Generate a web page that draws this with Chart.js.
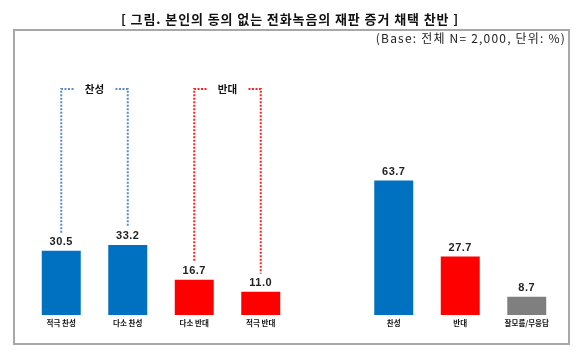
<!DOCTYPE html>
<html>
<head>
<meta charset="utf-8">
<script src="https://cdn.jsdelivr.net/npm/chart.js@4"></script>
<style>
html,body{margin:0;padding:0;background:#fff;}
#wrap{position:relative;width:580px;height:355px;}
</style>
</head>
<body>
<div id="wrap"><canvas id="c" width="580" height="355"></canvas></div>
<script>
const titleText = '[ 그림. 본인의 동의 없는 전화녹음의 재판 증거 채택 찬반 ]';
const baseText = '(Base: 전체 N= 2,000, 단위: %)';
const categories = ['적극 찬성', '다소 찬성', '다소 반대', '적극 반대', '', '찬성', '반대', '잘모름/무응답'];
const values = [30.5, 33.2, 16.7, 11.0, null, 63.7, 27.7, 8.7];
const barColors = ['#0070C0', '#0070C0', '#FF0000', '#FF0000', '#FFFFFF', '#0070C0', '#FF0000', '#7F7F7F'];
const bracketLabels = ['찬성', '반대'];
const bracketPairs = [[0, 1], [2, 3]];
const bracketColors = ['#5B8AC8', '#FF2020'];

const KFONT = '"Noto Sans CJK KR", "Noto Sans", sans-serif';

const decor = {
  id: 'decor',
  beforeDraw(chart) {
    const ctx = chart.ctx;
    ctx.save();
    ctx.fillStyle = '#fff';
    ctx.fillRect(0, 0, chart.width, chart.height);
    // frame
    ctx.strokeStyle = '#A8A8A8';
    ctx.lineWidth = 2;
    ctx.strokeRect(14, 30, 555, 314);
    // title
    ctx.fillStyle = '#111';
    ctx.font = 'bold 13px ' + KFONT;
    ctx.textAlign = 'center';
    ctx.textBaseline = 'middle';
    ctx.letterSpacing = '0.9px';
    ctx.fillText(titleText, 290, 19);
    // base text
    ctx.font = '12px ' + KFONT;
    ctx.letterSpacing = '1.2px';
    ctx.fillStyle = '#222';
    ctx.textAlign = 'right';
    ctx.fillText(baseText, 566, 38);
    ctx.letterSpacing = '0px';
    ctx.restore();
  },
  afterDatasetsDraw(chart) {
    const ctx = chart.ctx;
    const meta = chart.getDatasetMeta(0);
    ctx.save();
    // value labels
    ctx.font = 'bold 11px "Liberation Sans", Arial, sans-serif';
    ctx.letterSpacing = '0.5px';
    ctx.fillStyle = '#222';
    ctx.textAlign = 'center';
    ctx.textBaseline = 'middle';
    values.forEach((v, i) => {
      if (v === null) return;
      const el = meta.data[i];
      ctx.fillText(v.toFixed(1), el.x, el.y - 9);
    });
    ctx.letterSpacing = '0px';
    // brackets
    const topY = 89;
    bracketPairs.forEach((pair, k) => {
      const a = meta.data[pair[0]], b = meta.data[pair[1]];
      const xa = a.x, xb = b.x;
      ctx.strokeStyle = bracketColors[k];
      ctx.lineWidth = 2;
      ctx.setLineDash([2, 1.5]);
      const mid = (xa + xb) / 2;
      ctx.beginPath();
      ctx.moveTo(mid - 21, topY);
      ctx.lineTo(xa, topY);
      ctx.lineTo(xa, a.y - 18);
      ctx.moveTo(mid + 21, topY);
      ctx.lineTo(xb, topY);
      ctx.lineTo(xb, b.y - 18);
      ctx.stroke();
      ctx.setLineDash([]);
      ctx.fillStyle = '#111';
      ctx.font = 'bold 10.5px ' + KFONT;
      ctx.fillText(bracketLabels[k], mid, topY);
    });
    ctx.restore();
  }
};

new Chart(document.getElementById('c'), {
  type: 'bar',
  data: {
    labels: categories,
    datasets: [{
      data: values,
      backgroundColor: barColors,
      borderWidth: 0,
      categoryPercentage: 1.0,
      barPercentage: 0.586
    }]
  },
  options: {
    responsive: false,
    animation: false,
    devicePixelRatio: 1,
    layout: { padding: { left: 28, right: 20, top: 104, bottom: 23 } },
    plugins: { legend: { display: false }, tooltip: { enabled: false }, title: { display: false } },
    scales: {
      y: { display: false, min: 0, max: 100 },
      x: {
        grid: { display: false, drawTicks: false },
        border: { display: false },
        ticks: {
          padding: 4,
          color: '#111',
          font: { family: KFONT, size: 7.5, weight: 'bold' },
          maxRotation: 0, autoSkip: false
        }
      }
    }
  },
  plugins: [decor]
});
</script>
</body>
</html>
